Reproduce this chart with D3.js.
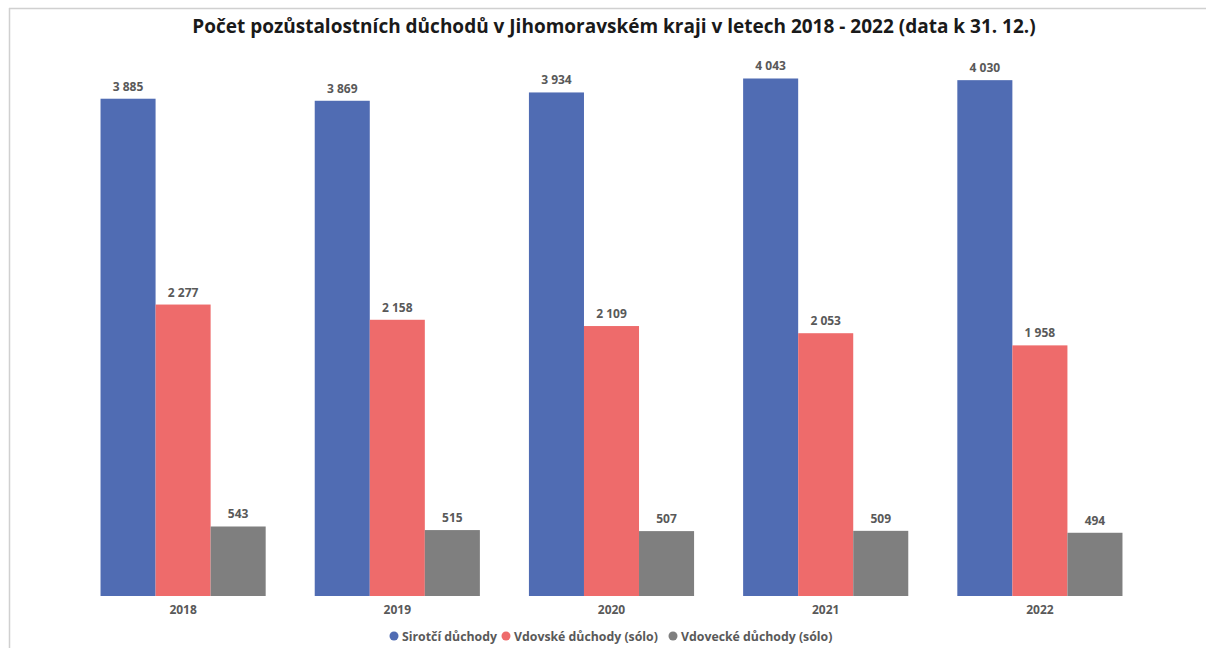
<!DOCTYPE html>
<html>
<head>
<meta charset="utf-8">
<script src="https://cdn.jsdelivr.net/npm/d3@7"></script>
<style>
  html, body { margin: 0; padding: 0; background: #fff; }
  svg { display: block; }
  text { font-family: "Open Sans", "Liberation Sans", sans-serif; }
</style>
</head>
<body>
<svg id="chart" width="1206" height="648"></svg>
<script>
// Počet pozůstalostních důchodů v Jihomoravském kraji, 2018–2022
const years = ["2018", "2019", "2020", "2021", "2022"];
const seriesNames = ["Sirotčí důchody", "Vdovské důchody (sólo)", "Vdovecké důchody (sólo)"];
const sirotci = [3885, 3869, 3934, 4043, 4030];
const vdovske = [2277, 2158, 2109, 2053, 1958];
const vdovecke = [543, 515, 507, 509, 494];
const colors = ["#506cb3", "#ee6b6b", "#7f7f7f"];

const seriesValues = [sirotci, vdovske, vdovecke];
const rows = years.map((y, i) => ({ year: y, values: seriesValues.map(s => s[i]) }));

const svg = d3.select("#chart");
const W = 1206, H = 648;

// frame lines along the top and left edge
svg.append("line").attr("x1", 9).attr("x2", W).attr("y1", 8.5).attr("y2", 8.5)
  .attr("stroke", "#d0d0d0").attr("stroke-width", 1.5);
svg.append("line").attr("x1", 9.5).attr("x2", 9.5).attr("y1", 8).attr("y2", H)
  .attr("stroke", "#d0d0d0").attr("stroke-width", 1.5);

const plot = { left: 76, right: 1147, top: 20, bottom: 596 };

const x0 = d3.scaleBand().domain(years).range([plot.left, plot.right]).paddingInner(0.229).paddingOuter(0.1145);
const x1 = d3.scaleBand().domain(d3.range(seriesNames.length)).range([0, x0.bandwidth()]);
const y = d3.scaleLinear().domain([0, 4500]).range([plot.bottom, plot.top]);

const fmt = v => d3.format(",")(v).replace(/,/g, " ");

// title
svg.append("text")
  .attr("x", 614).attr("y", 33)
  .attr("text-anchor", "middle")
  .attr("font-size", 19).attr("font-weight", "bold").attr("fill", "#1a1a1a")
  .text("Počet pozůstalostních důchodů v Jihomoravském kraji v letech 2018 - 2022 (data k 31. 12.)");

const groups = svg.append("g").selectAll("g").data(rows).join("g")
  .attr("transform", d => `translate(${x0(d.year)},0)`);

groups.selectAll("rect").data(d => d.values.map((v, k) => ({ v, k }))).join("rect")
  .attr("x", d => x1(d.k))
  .attr("width", x1.bandwidth())
  .attr("y", d => y(d.v))
  .attr("height", d => y(0) - y(d.v))
  .attr("fill", d => colors[d.k]);

groups.selectAll("text.val").data(d => d.values.map((v, k) => ({ v, k }))).join("text")
  .attr("class", "val")
  .attr("x", d => x1(d.k) + x1.bandwidth() / 2)
  .attr("y", d => y(d.v) - 8)
  .attr("text-anchor", "middle")
  .attr("font-size", 12).attr("font-weight", "bold").attr("fill", "#595959")
  .text(d => fmt(d.v));

// category axis
const xAxis = svg.append("g")
  .attr("transform", `translate(0,${plot.bottom})`)
  .call(d3.axisBottom(x0).tickSize(0).tickPadding(9));
xAxis.select(".domain").remove();
xAxis.selectAll("text")
  .attr("font-size", 12).attr("font-weight", "bold").attr("fill", "#595959")
  .attr("font-family", "'Open Sans', sans-serif");

// legend
const legendX = [394, 506, 673];
const legend = svg.append("g").selectAll("g").data(seriesNames).join("g")
  .attr("transform", (d, i) => `translate(${legendX[i]},636)`);
legend.append("circle").attr("r", 4.5).attr("fill", (d, i) => colors[i]);
legend.append("text").attr("x", 8).attr("y", 4.5)
  .attr("font-size", 12.3).attr("font-weight", "bold").attr("fill", "#595959")
  .text(d => d);
</script>
</body>
</html>
